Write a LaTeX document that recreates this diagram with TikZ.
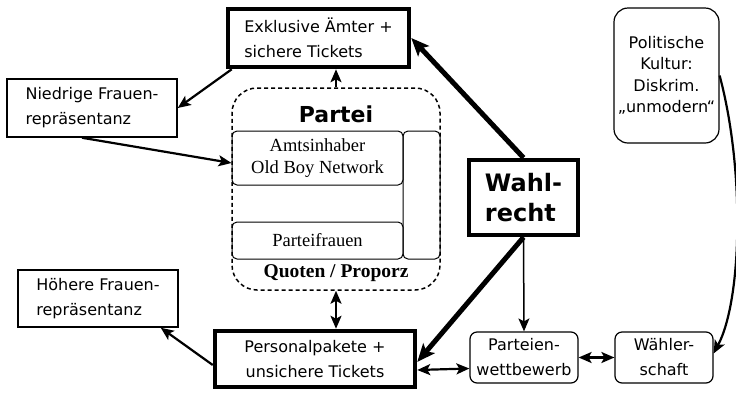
\documentclass[tikz,border=0pt]{standalone}
\usepackage{fontspec}
\setmainfont{DejaVu Sans}
\newfontfamily\timesfont{Liberation Serif}
\usetikzlibrary{arrows.meta}

\begin{document}
\begin{tikzpicture}[x=1pt,y=-1pt,
box/.style={draw,line width=1.5pt,inner sep=0pt,font=\fontsize{16}{25}\selectfont},
thickbox/.style={box,line width=4.5pt},
roundbox/.style={box,line width=1.2pt,rounded corners=7pt},
inbox/.style={draw,line width=1pt,rounded corners=5pt,inner sep=0pt,font=\timesfont\fontsize{18.5}{22}\selectfont},
conn/.style={line width=2.2pt,-{Stealth[length=13pt,width=11pt,inset=3pt]}},
dconn/.style={line width=2.2pt,{Stealth[length=13pt,width=11pt,inset=3pt]}-{Stealth[length=13pt,width=11pt,inset=3pt]}},
thickconn/.style={line width=5pt,-{Stealth[length=18pt,width=15pt,inset=4pt]}}]
\useasboundingbox (0,0) rectangle (736,392);
% boxes
\node[thickbox,align=left,minimum width=181pt,minimum height=58pt] (excl) at (318.5,38) {Exklusive Ämter +\\sichere Tickets};
\node[box,align=left,minimum width=170pt,minimum height=58pt] (niedrig) at (92,108) {Niedrige Frauen-\\repräsentanz};
\node[box,align=left,minimum width=160pt,minimum height=57pt] (hoeher) at (98,298.5) {Höhere Frauen-\\repräsentanz};
\node[thickbox,align=center,minimum width=200pt,minimum height=56pt] (perso) at (315,359) {Personalpakete +\\unsichere Tickets};
\node[thickbox,align=left,minimum width=109pt,minimum height=75pt,font=\bfseries\fontsize{24}{30}\selectfont] (wahl) at (523.5,197.5) {Wahl-\\recht};
\node[roundbox,align=center,minimum width=108pt,minimum height=51pt] (wett) at (524,357.5) {Parteien-\\wettbewerb};
\node[roundbox,align=center,minimum width=98pt,minimum height=51pt] (waehler) at (664,357.5) {Wähler-\\schaft};
\node[roundbox,align=center,rounded corners=14pt,minimum width=105pt,minimum height=135pt,font=\fontsize{16}{21.5}\selectfont] (kultur) at (666.5,75.5) {Politische\\Kultur:\\Diskrim.\\„unmodern“};
% Partei
\node[draw,dashed,dash pattern=on 4pt off 3pt,line width=1.5pt,rounded corners=25pt,minimum width=208pt,minimum height=202pt] (partei) at (336,189) {};
\node[inbox,align=center,minimum width=171pt,minimum height=54pt] (amts) at (317.5,158) {Amtsinhaber\\Old Boy Network};
\node[inbox,minimum width=171pt,minimum height=37pt] (frauen) at (317.5,240.5) {Parteifrauen};
\node[inbox,minimum width=37pt,minimum height=128pt] (seite) at (421.5,195) {};
\node[font=\bfseries\fontsize{22}{26}\selectfont] (parteilabel) at (336,114) {Partei};
\node[font=\timesfont\bfseries\fontsize{19.5}{22}\selectfont] (quoten) at (336,273) {Quoten / Proporz};
% connectors
\draw[conn] (partei.north) -- (partei.north |- excl.south);
\draw[conn] ([xshift=6pt]excl.south west) -- (niedrig.east);
\draw[conn] ([xshift=-10pt]niedrig.south) -- ([yshift=-5pt]amts.west);
\draw[dconn] (partei.south) -- (partei.south |- perso.north);
\draw[conn] ([yshift=-6pt]perso.west) -- ([xshift=-18pt]hoeher.south east);
\draw[thickconn] (wahl.north) -- (excl.east);
\draw[thickconn] (wahl.south) -- ([yshift=-3pt]perso.east);
\draw[conn,line width=1.5pt] (wahl.south) -- (wett.north);
\draw[dconn] ([yshift=-11pt]perso.east) -- ([yshift=-11pt]wett.west);
\draw[dconn] (wett.east) -- (waehler.west);
\draw[conn] (kultur.east) .. controls (745,170) and (742,300) .. ([yshift=4pt]waehler.east);
\end{tikzpicture}
\end{document}
